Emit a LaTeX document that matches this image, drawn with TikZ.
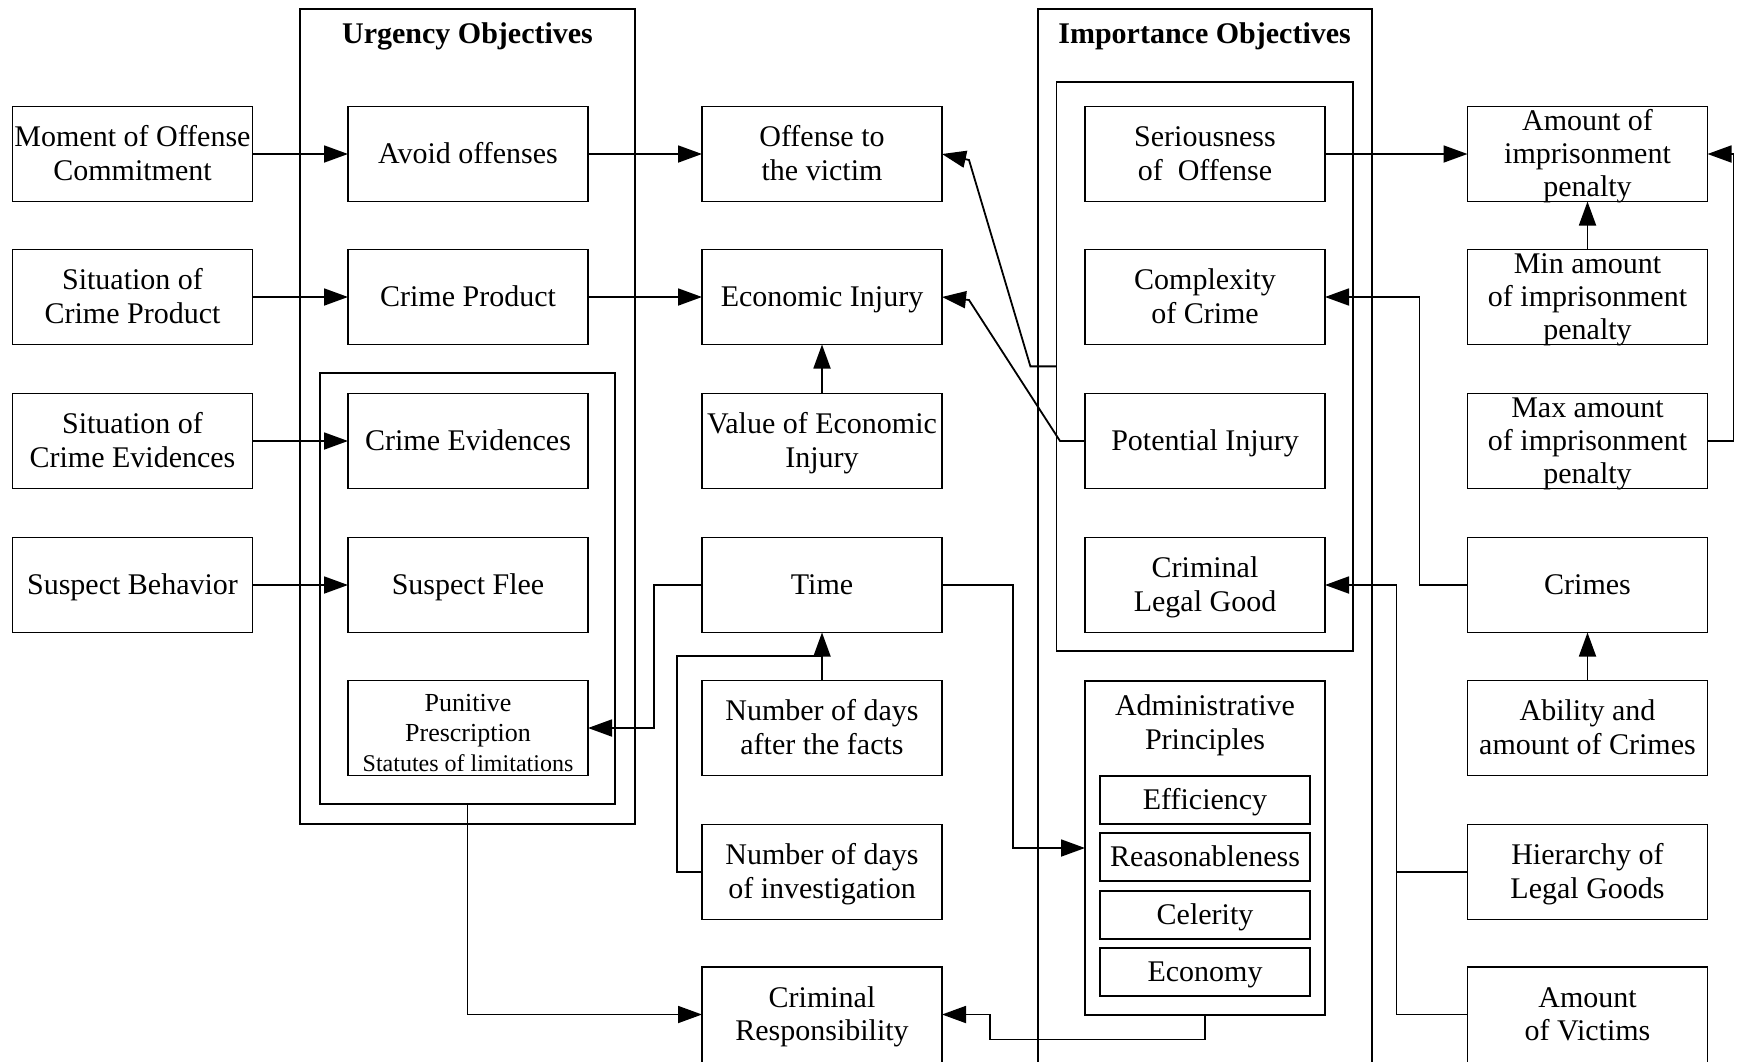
\documentclass[tikz,border=0pt]{standalone}
\usepackage{fontspec}
\setmainfont{Liberation Serif}
\usetikzlibrary{arrows.meta}
\newcommand\mystrut{\rule[-3.6pt]{0pt}{16.6pt}}
\begin{document}
\begin{tikzpicture}[x=0.5pt,y=-0.5pt,
  line width=0.9pt,
  box/.style={draw, rectangle, minimum width=120pt, minimum height=47.5pt, inner sep=0pt, outer sep=0pt, align=center, font=\fontsize{15}{16.7}\selectfont},
  three/.style={box, inner ysep=-1.25pt},
  sub/.style={box, minimum width=105pt, minimum height=24pt},
  grp/.style={draw, rectangle, inner sep=0pt, outer sep=0pt},
  ttl/.style={font=\fontsize{15}{18}\selectfont\bfseries, inner sep=0pt, anchor=base},
  arr/.style={-{Triangle[length=12pt,width=8.5pt]}},
]
\useasboundingbox (0,0) rectangle (1741,1061);
\clip (0,0) rectangle (1741,1061);
\fill[white] (0,0) rectangle (1741,1061);

% group boxes
\node[grp, minimum width=167.5pt, minimum height=407.35pt] (uo) at (467.5,416.7) {};
\node[grp, minimum width=147.5pt, minimum height=215.5pt] (ui) at (467.5,588.5) {};
\node[grp, minimum width=167.05pt, minimum height=540.35pt] (io) at (1204.65,549.65) {};
\node[grp, minimum width=148.15pt, minimum height=284.65pt] (ii) at (1204.55,366.35) {};
\node[ttl] (ut) at (467.5,43) {Urgency Objectives};
\node[ttl] (it) at (1204.6,43) {Importance Objectives};

% left column
\node[box] (mo)  at (132.5,154) {\mystrut Moment of Offense\\Commitment\mystrut};
\node[box] (scp) at (132.5,297) {\mystrut Situation of\\Crime Product\mystrut};
\node[box] (sce) at (132.5,441) {\mystrut Situation of\\Crime Evidences\mystrut};
\node[box] (sb)  at (132.5,585) {\mystrut Suspect Behavior};

% urgency column
\node[box] (ao) at (468,154) {\mystrut Avoid offenses};
\node[box] (cp) at (468,297) {\mystrut Crime Product};
\node[box] (ce) at (468,441) {\mystrut Crime Evidences};
\node[box] (sf) at (468,585) {\mystrut Suspect Flee};
\node[box, font=\fontsize{13}{15}\selectfont, inner ysep=-1.25pt] (pp) at (468,728) {\rule[-3pt]{0pt}{19.6pt}Punitive\\Prescription\\{\fontsize{12}{13.5}\selectfont Statutes of limitations}\rule[-3pt]{0pt}{3pt}};

% middle column
\node[box] (ov)  at (822,154) {\mystrut Offense to\\the victim\mystrut};
\node[box] (ei)  at (822,297) {\mystrut Economic Injury};
\node[box] (vei) at (822,441) {\mystrut Value of Economic\\Injury\mystrut};
\node[box] (ti)  at (822,585) {\mystrut Time};
\node[box] (nda) at (822,728) {\mystrut Number of days\\after the facts\mystrut};
\node[box] (ndi) at (822,872) {\mystrut Number of days\\of investigation\mystrut};
\node[box, draw=none] (cr) at (822,1014.5) {\mystrut Criminal\\Responsibility\mystrut};
\draw (cr.north west) rectangle ([yshift=-20pt]cr.south east);

% importance column
\node[box] (so)  at (1205,154) {\mystrut Seriousness\\of\ \ Offense\mystrut};
\node[box] (cc)  at (1205,297) {\mystrut Complexity\\of Crime\mystrut};
\node[box] (pi)  at (1205,441) {\mystrut Potential Injury};
\node[box] (clg) at (1205,585) {\mystrut Criminal\\Legal Good\mystrut};
\node[box, minimum height=167pt] (ap) at (1205,848) {};
\node[box, draw=none, minimum height=0pt] (apt) at (1205,723) {\mystrut Administrative\\Principles\mystrut};
\node[sub] (ef)  at (1205,800) {\mystrut Efficiency};
\node[sub] (re)  at (1205,857) {\mystrut Reasonableness};
\node[sub] (cel) at (1205,915) {\mystrut Celerity};
\node[sub] (eco) at (1205,972) {\mystrut Economy};

% right column
\node[three] (aip)  at (1587.5,154) {\mystrut Amount of\\imprisonment\\penalty\mystrut};
\node[three] (mina) at (1587.5,297) {\mystrut Min amount\\of imprisonment\\penalty\mystrut};
\node[three] (maxa) at (1587.5,441) {\mystrut Max amount\\of imprisonment\\penalty\mystrut};
\node[box] (cri)  at (1587.5,585) {\mystrut Crimes};
\node[box] (aac)  at (1587.5,728) {\mystrut Ability and\\amount of Crimes\mystrut};
\node[box] (hlg)  at (1587.5,872) {\mystrut Hierarchy of\\Legal Goods\mystrut};
\node[box, draw=none] (aov) at (1587.5,1014.5) {\mystrut Amount\\of Victims\mystrut};
\draw (aov.north west) rectangle ([yshift=-20pt]aov.south east);

% connectors
\draw[arr] (mo.east) -- (ao.west);
\draw[arr] (scp.east) -- (cp.west);
\draw[arr] (sce.east) -- (ce.west);
\draw[arr] (sb.east) -- (sf.west);
\draw[arr] (ao.east) -- (ov.west);
\draw[arr] (cp.east) -- (ei.west);
\draw[arr] (vei.north) -- (ei.south);
\draw[arr] (ii.west) -- ++(-26,0) -- (969,160) -- (ov.east);
\draw[arr] (pi.west) -- ++(-25,0) -- (969,300) -- (ei.east);
\draw[arr] (so.east) -- (aip.west);
\draw[arr] (mina.north) -- (aip.south);
\draw[arr] (maxa.east) -- ++(26,0) |- (aip.east);
\draw[arr] (cri.west) -- ++(-48,0) |- (cc.east);
\draw[arr] (aac.north) -- (cri.south);
\draw[arr] (hlg.west) -- ++(-71,0) |- (clg.east);
\draw (aov.west) -- ++(-71,0) -- ++(0,-150);
\draw[arr] (ti.east) -- ++(71,0) |- (ap.west);
\draw[arr] (ti.west) -- ++(-48,0) |- (pp.east);
\draw[arr] (nda.north) -- (ti.south);
\coordinate (tj) at (822,656);
\draw (ndi.west) -- ++(-25,0) |- (tj);
\draw[arr] (ui.south) |- (cr.west);
\draw[arr] (ap.south) -- ++(0,24.5) -- ++(-215,0) |- (cr.east);
\end{tikzpicture}
\end{document}
